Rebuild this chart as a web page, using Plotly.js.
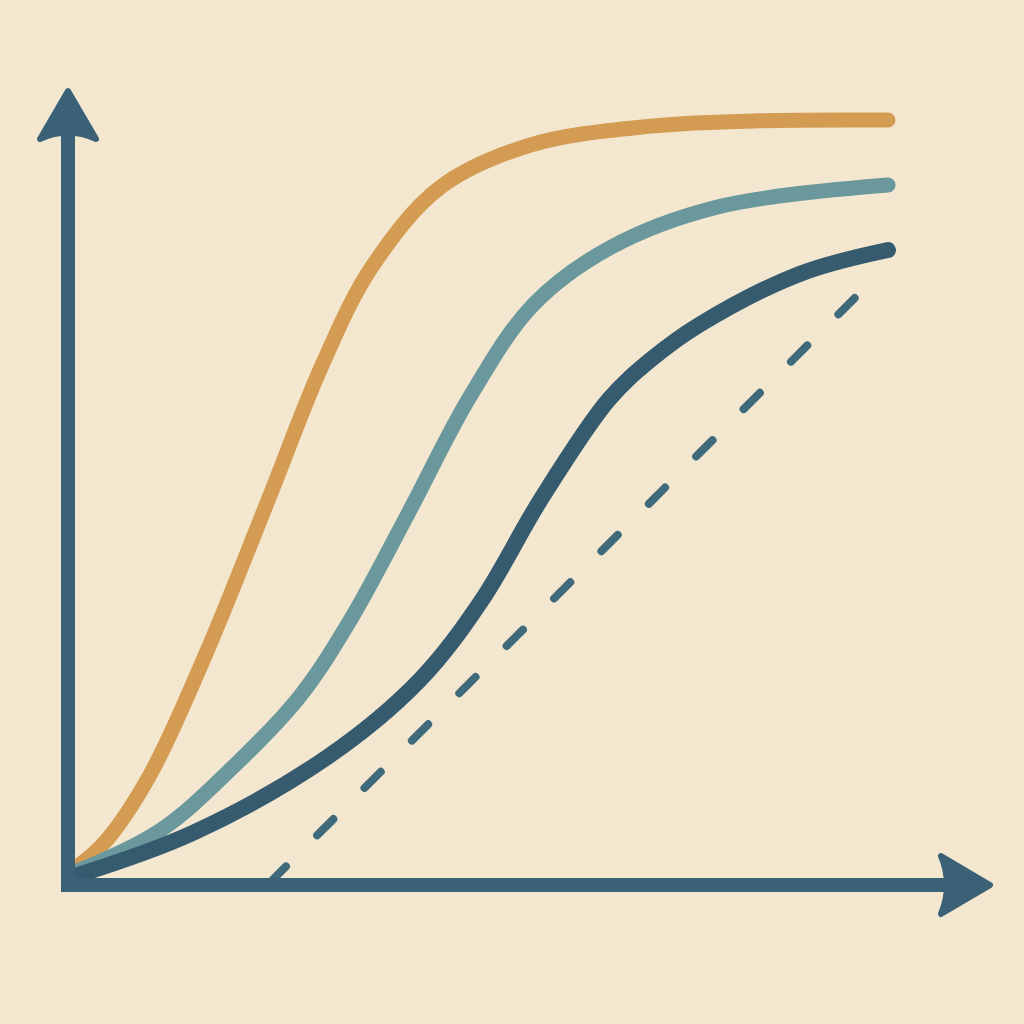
<!DOCTYPE html>
<html>
<head>
<meta charset="utf-8">
<script src="https://cdn.plot.ly/plotly-3.0.1.min.js"></script>
<style>
  html, body { margin: 0; padding: 0; background: #f3e7d0; }
  #chart { width: 1024px; height: 1024px; }
  /* rounded ends like the drawing */
  .js-line { stroke-linecap: round; stroke-linejoin: round; }
  .shapelayer path { stroke-linejoin: round; }
</style>
</head>
<body>
<div id="chart"></div>
<script>
// curves, in chart units (origin at the axes corner, 10 = right/top end of the curves)
const fastX = [0.09, 0.45, 1.00, 1.70, 2.44, 3.10, 3.70, 4.54, 5.63, 7.10, 8.44, 10.0];
const fastY = [0.22, 0.56, 1.44, 3.07, 5.03, 6.80, 8.07, 9.12, 9.67, 9.92, 9.99, 10.0];

const midX = [0.09, 1.12, 2.01, 2.83, 3.44, 4.15, 4.90, 5.67, 6.61, 7.91, 10.0];
const midY = [0.17, 0.71, 1.54, 2.47, 3.46, 4.86, 6.38, 7.58, 8.33, 8.86, 9.15];

const slowX = [0.09, 1.52, 3.16, 4.29, 5.05, 5.76, 6.59, 7.10, 7.71, 8.93, 10.0];
const slowY = [0.12, 0.68, 1.67, 2.68, 3.73, 5.03, 6.34, 6.86, 7.33, 7.99, 8.30];

// straight dashed reference line
const refX = [2.46, 9.61];
const refY = [0.03, 7.69];

const colors = {
  bg: '#f3e7d0',
  axis: '#3b6176',
  fast: '#d49b52',
  mid: '#6a989d',
  slow: '#365b6f',
  ref: '#3e6a7c'
};

(function () {
  // where the chart origin sits on the 1024px canvas and how big one unit is
  const originPx = [68, 885];
  const unitPx = [82, 76.5];
  const size = 1024;

  const xRange = [-originPx[0] / unitPx[0], (size - originPx[0]) / unitPx[0]];
  const yRange = [-(size - originPx[1]) / unitPx[1], originPx[1] / unitPx[1]];

  // paper coords from canvas pixels, for the hand drawn axes
  const P = function (x, y) {
    return (x / size).toFixed(4) + ',' + (1 - y / size).toFixed(4);
  };

  const curve = function (x, y, color, width) {
    return {
      x: x,
      y: y,
      type: 'scatter',
      mode: 'lines',
      line: { color: color, width: width, shape: 'spline', smoothing: 1 },
      hoverinfo: 'skip'
    };
  };

  const refTrace = {
    x: refX,
    y: refY,
    type: 'scatter',
    mode: 'lines',
    line: { color: colors.ref, width: 8, dash: '23px,44px' },
    hoverinfo: 'skip'
  };

  const axisLine = function (path, width) {
    return {
      type: 'path', xref: 'paper', yref: 'paper', layer: 'above',
      path: path,
      line: { color: colors.axis, width: width },
      fillcolor: 'rgba(0,0,0,0)'
    };
  };
  const arrowHead = function (path) {
    return {
      type: 'path', xref: 'paper', yref: 'paper', layer: 'above',
      path: path,
      line: { color: colors.axis, width: 6 },
      fillcolor: colors.axis
    };
  };

  const shapes = [
    axisLine('M' + P(68, 892) + 'L' + P(68, 135), 14),
    axisLine('M' + P(61, 885) + 'L' + P(946, 885), 14),
    arrowHead('M' + P(68, 91) + 'L' + P(96, 139) + 'Q' + P(68, 126) + ' ' + P(40, 139) + 'Z'),
    arrowHead('M' + P(990, 885) + 'L' + P(941, 914) + 'Q' + P(953, 885) + ' ' + P(941, 856) + 'Z')
  ];

  const hidden = {
    visible: false,
    fixedrange: true,
    showgrid: false,
    zeroline: false
  };

  Plotly.newPlot('chart', [
    refTrace,
    curve(fastX, fastY, colors.fast, 15),
    curve(midX, midY, colors.mid, 15),
    curve(slowX, slowY, colors.slow, 16)
  ], {
    width: size,
    height: size,
    margin: { l: 0, r: 0, t: 0, b: 0, pad: 0 },
    paper_bgcolor: colors.bg,
    plot_bgcolor: colors.bg,
    showlegend: false,
    xaxis: Object.assign({ range: xRange }, hidden),
    yaxis: Object.assign({ range: yRange }, hidden),
    shapes: shapes
  }, {
    staticPlot: true,
    displayModeBar: false
  });
})();
</script>
</body>
</html>
